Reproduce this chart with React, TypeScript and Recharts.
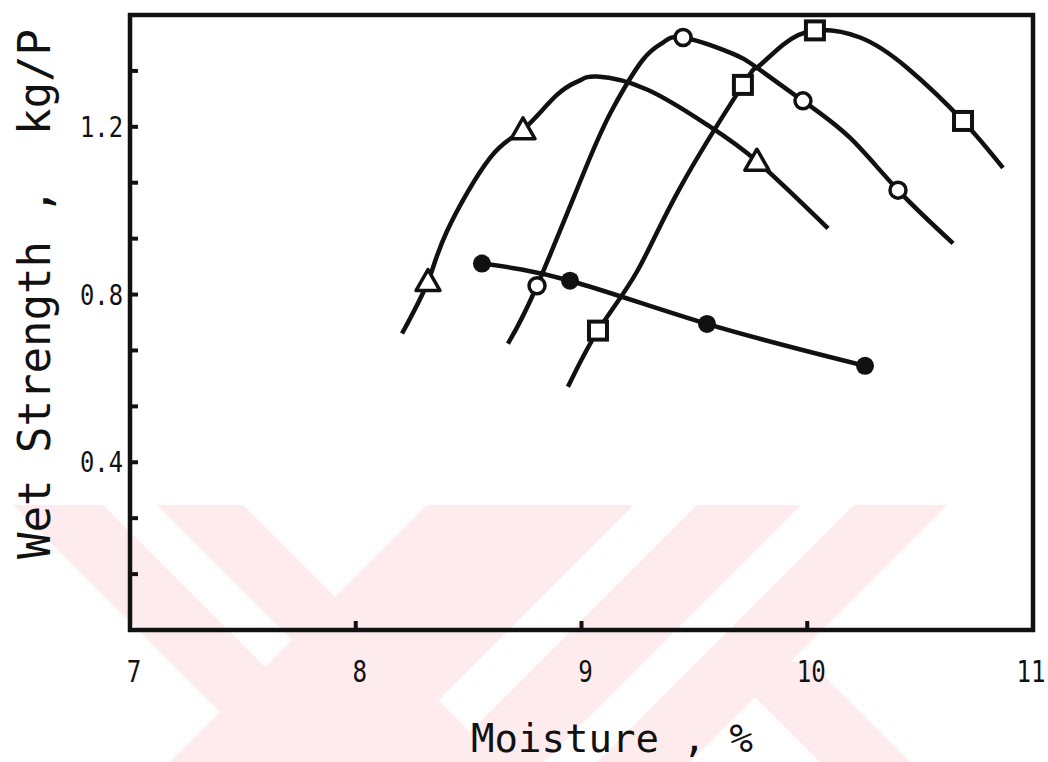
import React from "react";
import {
  ComposedChart, Line, Scatter, XAxis, YAxis, ReferenceArea, Label,
} from "recharts";

// curves (moisture %, wet strength kg/P)
const triangleCurve = [
  { x: 8.205, y: 0.707 }, { x: 8.32, y: 0.831 }, { x: 8.404, y: 0.951 }, { x: 8.595, y: 1.126 },
  { x: 8.741, y: 1.193 }, { x: 8.891, y: 1.276 }, { x: 8.99, y: 1.31 }, { x: 9.069, y: 1.32 },
  { x: 9.29, y: 1.289 }, { x: 9.556, y: 1.205 }, { x: 9.777, y: 1.118 }, { x: 10.092, y: 0.958 },
];
const circleCurve = [
  { x: 8.674, y: 0.683 }, { x: 8.803, y: 0.821 }, { x: 9.024, y: 1.109 }, { x: 9.14, y: 1.245 },
  { x: 9.272, y: 1.36 }, { x: 9.361, y: 1.401 }, { x: 9.45, y: 1.413 }, { x: 9.658, y: 1.377 },
  { x: 9.777, y: 1.341 }, { x: 9.981, y: 1.262 }, { x: 10.189, y: 1.174 }, { x: 10.402, y: 1.049 },
  { x: 10.646, y: 0.922 },
];
const squareCurve = [
  { x: 8.94, y: 0.58 }, { x: 9.073, y: 0.714 }, { x: 9.246, y: 0.855 }, { x: 9.436, y: 1.054 },
  { x: 9.715, y: 1.3 }, { x: 9.777, y: 1.341 }, { x: 9.893, y: 1.396 }, { x: 10.034, y: 1.43 },
  { x: 10.234, y: 1.413 }, { x: 10.442, y: 1.341 }, { x: 10.69, y: 1.214 }, { x: 10.867, y: 1.102 },
];
const dotCurve = [
  { x: 8.559, y: 0.874 }, { x: 8.949, y: 0.833 }, { x: 9.556, y: 0.73 }, { x: 10.256, y: 0.63 },
];

// measured points
const trianglePts = [{ x: 8.32, y: 0.831 }, { x: 8.741, y: 1.193 }, { x: 9.777, y: 1.118 }];
const circlePts = [{ x: 8.803, y: 0.821 }, { x: 9.45, y: 1.413 }, { x: 9.981, y: 1.262 }, { x: 10.402, y: 1.049 }];
const squarePts = [{ x: 9.073, y: 0.714 }, { x: 9.715, y: 1.3 }, { x: 10.034, y: 1.43 }, { x: 10.69, y: 1.214 }];
const dotPts = [{ x: 8.559, y: 0.874 }, { x: 8.949, y: 0.833 }, { x: 9.556, y: 0.73 }, { x: 10.256, y: 0.63 }];

const xTicks = [7, 8, 9, 10, 11];
const xLabels = ["7", "8", "9", "10", "11"];
const yMax = 1.4667;
const yTicks = [0.1333, 0.2667, 0.4, 0.5333, 0.6667, 0.8, 0.9333, 1.0667, 1.2, 1.3333];
const yLabelValues = [0.4, 0.8, 1.2];
const yLabels = ["0.4", "0.8", "1.2"];

const INK = "#111";
const FONT = "'DejaVu Sans Mono', monospace";

const XTick = ({ x, y, payload }: any) => {
  const i = xTicks.indexOf(payload.value);
  const inner = payload.value > 7 && payload.value < 11;
  const dx = payload.value === 11 ? -2 : 4;
  return (
    <g>
      {inner && <line x1={x} y1={y} x2={x} y2={y - 9} stroke={INK} strokeWidth={4} />}
      <text transform={`translate(${x + dx},${y + 52}) scale(0.78,1)`} textAnchor="middle" fontSize={31} fontFamily={FONT} fill={INK}>
        {xLabels[i]}
      </text>
    </g>
  );
};

const YTick = ({ x, y, payload }: any) => {
  const i = yLabelValues.findIndex((v) => Math.abs(v - payload.value) < 1e-3);
  return (
    <g>
      <line x1={x} y1={y} x2={x + 8} y2={y} stroke={INK} strokeWidth={4} />
      {i >= 0 && (
        <text transform={`translate(${x - 7},${y + 10}) scale(0.85,1)`} textAnchor="end" fontSize={28} fontFamily={FONT} fill={INK}>
          {yLabels[i]}
        </text>
      )}
    </g>
  );
};

const TriangleMark = ({ cx, cy }: any) => (
  <polygon points={`${cx},${cy - 12} ${cx - 12},${cy + 9} ${cx + 12},${cy + 9}`} fill="#fff" stroke={INK} strokeWidth={3.5} strokeLinejoin="round" />
);
const CircleMark = ({ cx, cy }: any) => (
  <circle cx={cx} cy={cy} r={8} fill="#fff" stroke={INK} strokeWidth={3.5} />
);
const SquareMark = ({ cx, cy }: any) => (
  <rect x={cx - 9} y={cy - 9} width={18} height={18} fill="#fff" stroke={INK} strokeWidth={4} />
);
const DotMark = ({ cx, cy }: any) => <circle cx={cx} cy={cy} r={9} fill={INK} />;

// pale watermark behind the figure
const watermark = [
  "13,505 103,505 360,762 270,762",
  "265,667 319,667 414,762 360,762",
  "157,505 243,505 500,762 414,762",
  "427,505 634,505 377,762 170,762",
  "697,505 801,505 544,762 440,762",
  "854,505 947,505 690,762 597,762",
  "720,662 810,662 910,762 820,762",
];

export default function App() {
  return (
    <div style={{ position: "absolute", left: 0, top: 0, width: 1048, height: 762, background: "#fff" }}>
      <svg width={1048} height={762} style={{ position: "absolute", left: 0, top: 0 }}>
        {watermark.map((p, i) => <polygon key={i} points={p} fill="#fdebee" />)}
      </svg>
      <div style={{ position: "absolute", left: 0, top: 0 }}>
        <ComposedChart width={1048} height={762} margin={{ top: 15, right: 15, bottom: 0, left: 0 }}>
          <XAxis
            type="number" dataKey="x" domain={[7, 11]} ticks={xTicks} interval={0}
            height={132} tickSize={0} tickMargin={0} tickLine={false} axisLine={false}
            tick={<XTick />} allowDataOverflow
          >
            <Label content={() => (
              <text x={612} y={752} textAnchor="middle" fontSize={39} fontFamily={FONT} fill={INK} style={{ whiteSpace: "pre" }}>
                Moisture , %
              </text>
            )} />
          </XAxis>
          <YAxis
            type="number" dataKey="y" domain={[0, yMax]} ticks={yTicks} interval={0}
            width={130} tickSize={0} tickMargin={0} tickLine={false} axisLine={false}
            tick={<YTick />} allowDataOverflow
          >
            <Label content={() => (
              <text x={50} y={294} transform="rotate(-90, 50, 294)" textAnchor="middle" fontSize={44} fontFamily={FONT} fill={INK} style={{ whiteSpace: "pre" }}>
                Wet Strength ,  kg/P
              </text>
            )} />
          </YAxis>
          <ReferenceArea x1={7} x2={11} y1={0} y2={yMax} fill="none" stroke={INK} strokeWidth={4.5} ifOverflow="visible" />
          <Line data={triangleCurve} dataKey="y" type="natural" stroke={INK} strokeWidth={4.5} dot={false} isAnimationActive={false} />
          <Line data={circleCurve} dataKey="y" type="natural" stroke={INK} strokeWidth={4.5} dot={false} isAnimationActive={false} />
          <Line data={squareCurve} dataKey="y" type="natural" stroke={INK} strokeWidth={4.5} dot={false} isAnimationActive={false} />
          <Line data={dotCurve} dataKey="y" type="natural" stroke={INK} strokeWidth={4.5} dot={false} isAnimationActive={false} />
          <Scatter data={trianglePts} dataKey="y" shape={<TriangleMark />} isAnimationActive={false} />
          <Scatter data={circlePts} dataKey="y" shape={<CircleMark />} isAnimationActive={false} />
          <Scatter data={squarePts} dataKey="y" shape={<SquareMark />} isAnimationActive={false} />
          <Scatter data={dotPts} dataKey="y" shape={<DotMark />} isAnimationActive={false} />
        </ComposedChart>
      </div>
    </div>
  );
}
